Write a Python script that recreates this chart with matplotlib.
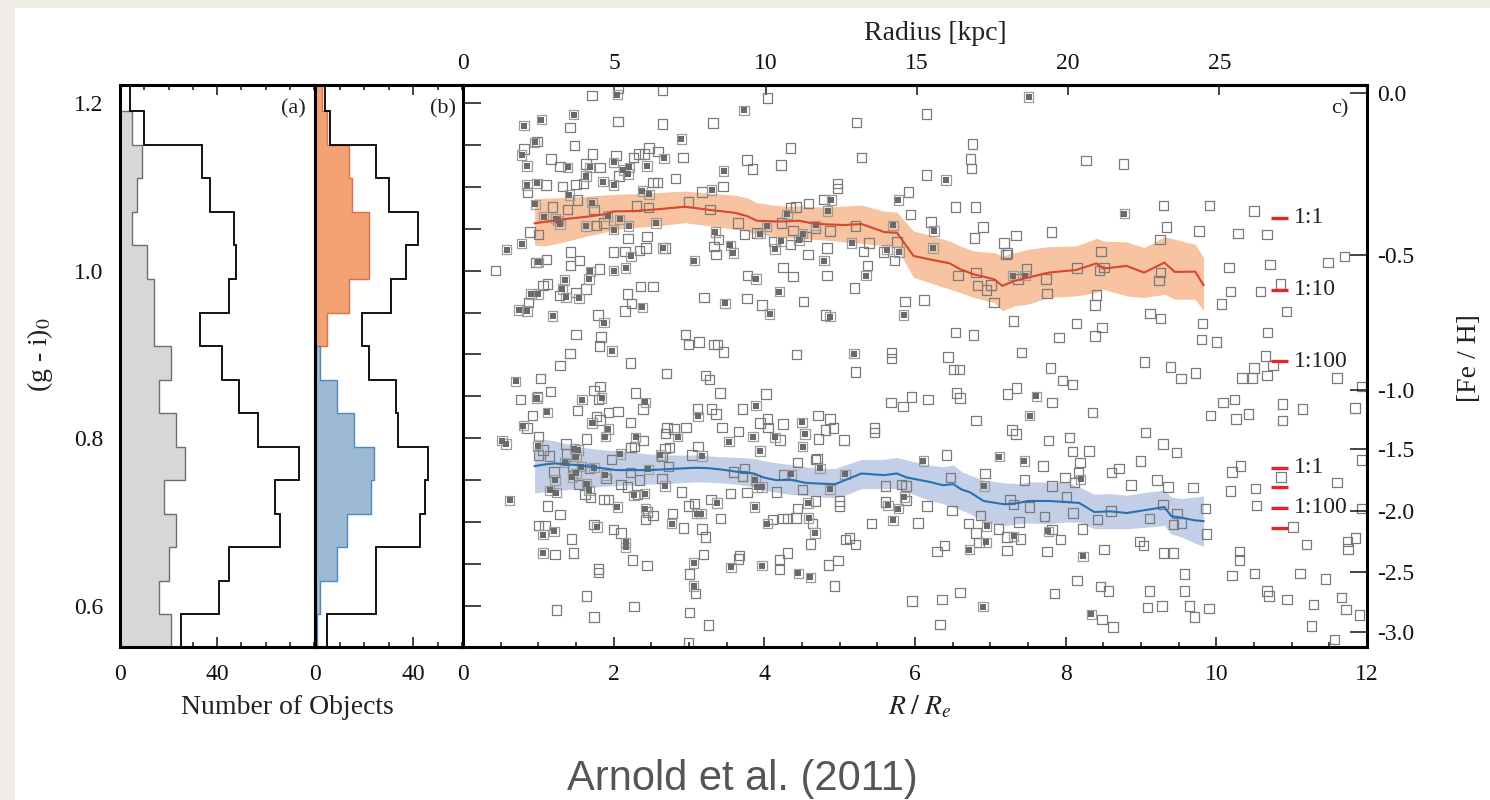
import numpy as np
import matplotlib
matplotlib.use("Agg")
import matplotlib.pyplot as plt
from matplotlib.patches import Rectangle
from matplotlib.ticker import MultipleLocator

plt.rcParams['font.family'] = ['Liberation Serif', 'DejaVu Serif']
plt.rcParams['mathtext.fontset'] = 'stix'
plt.rcParams['text.color'] = '#222222'
plt.rcParams['xtick.color'] = '#111111'
plt.rcParams['ytick.color'] = '#111111'

# ---- colour histograms, 0.04 mag bins in (g - i)_0 ----
bin_edges = [0.55, 0.59, 0.63, 0.67, 0.71, 0.75, 0.79, 0.83, 0.87, 0.91,
             0.95, 0.99, 1.03, 1.07, 1.11, 1.15, 1.19, 1.23]
all_counts = [25, 41, 45, 66, 64, 74, 57, 49, 42, 33, 45, 48, 47, 37, 34, 10, 4]
inner_counts = [21, 16, 20, 23, 18, 27, 23, 16, 21, 14, 14, 11, 5, 7, 9, 5, 0]
outer_counts = [5, 25, 25, 43, 45, 46, 34, 33, 22, 19, 31, 37, 42, 30, 25, 6, 4]
blue_counts = [1, 2, 9, 13, 23, 24, 16, 9, 2, 0, 0, 0, 0, 0, 0, 0, 0]
red_counts = [0, 0, 0, 0, 0, 0, 0, 0, 0, 5, 14, 22, 22, 15, 14, 5, 3]

# ---- GC colours vs projected radius (R / R_e, (g - i)_0) ----
open_pts = [
    (1.71, 1.209), (2.06, 1.217), (2.65, 1.215), (4.04, 1.206), (1.42, 1.171), (2.06, 1.178), (2.65, 1.175),
    (3.32, 1.176), (5.22, 1.177), (6.15, 1.187), (0.98, 1.154), (1.48, 1.149), (4.35, 1.146), (0.81, 1.145),
    (1.17, 1.133), (1.29, 1.124), (1.72, 1.139), (1.63, 1.127), (1.82, 1.123), (2.03, 1.137), (2.26, 1.135),
    (2.33, 1.139), (2.41, 1.139), (2.47, 1.146), (2.59, 1.142), (2.92, 1.135), (2.07, 1.113), (3.77, 1.132),
    (3.84, 1.121), (4.22, 1.126), (5.29, 1.135), (2.82, 1.110), (6.15, 1.114), (1.10, 1.102), (0.86, 1.093),
    (1.32, 1.100), (1.50, 1.103), (1.60, 1.104), (2.52, 1.105), (2.58, 1.105), (3.17, 1.094), (3.45, 1.100),
    (4.97, 1.104), (4.97, 1.098), (5.91, 1.094), (1.52, 1.084), (1.19, 1.076), (1.39, 1.073), (1.74, 1.073),
    (2.30, 1.077), (2.46, 1.075), (2.99, 1.082), (3.28, 1.073), (4.35, 1.075), (4.42, 1.076), (4.59, 1.080),
    (4.79, 1.085), (5.94, 1.067), (6.21, 1.058), (1.00, 1.043), (0.89, 1.046), (0.43, 1.000), (1.77, 1.054),
    (1.87, 1.057), (2.19, 1.038), (2.44, 1.041), (2.00, 1.022), (2.15, 1.023), (2.34, 1.024), (2.43, 1.027),
    (2.68, 1.027), (3.39, 1.037), (3.33, 1.029), (3.36, 1.019), (3.65, 1.057), (3.74, 1.043), (3.90, 1.045),
    (4.23, 1.057), (4.38, 1.048), (4.56, 1.041), (4.13, 1.035), (4.35, 1.031), (4.68, 1.051), (4.87, 1.047),
    (5.21, 1.053), (5.76, 1.034), (5.58, 1.022), (5.73, 1.012), (5.39, 1.033), (5.32, 1.023), (4.83, 1.027),
    (4.58, 1.019), (0.97, 1.010), (1.11, 1.013), (1.43, 1.022), (1.55, 1.012), (1.43, 1.006), (1.81, 1.002),
    (1.12, 0.984), (1.06, 0.982), (0.87, 0.962), (1.28, 0.970), (1.50, 0.974), (1.63, 0.978), (2.18, 0.972),
    (2.24, 0.961), (2.15, 0.952), (2.36, 0.981), (2.52, 0.981), (3.78, 0.994), (4.25, 1.004), (4.38, 0.993),
    (4.83, 0.994), (5.37, 1.006), (5.20, 0.979), (3.20, 0.968), (3.77, 0.967), (3.97, 0.959), (4.52, 0.963),
    (4.81, 0.947), (5.87, 0.963), (6.12, 0.965), (1.79, 0.947), (1.50, 0.924), (1.83, 0.921), (1.81, 0.910),
    (1.42, 0.901), (2.95, 0.924), (2.99, 0.912), (3.13, 0.915), (3.33, 0.912), (3.38, 0.912), (3.46, 0.903),
    (4.43, 0.900), (5.69, 0.902),
    (6.76, 1.151), (6.74, 1.133), (6.75, 1.122), (8.27, 1.131), (8.77, 1.127), (6.54, 1.076), (6.80, 1.076),
    (9.30, 1.078), (9.91, 1.078), (10.50, 1.071), (6.90, 1.052), (6.79, 1.039), (7.34, 1.042), (7.18, 1.033),
    (7.23, 1.021), (7.21, 1.019), (7.81, 1.046), (9.34, 1.052), (9.25, 1.037), (9.77, 1.047), (10.29, 1.044),
    (10.67, 1.043), (6.57, 0.994), (6.81, 0.998), (6.83, 0.982), (6.95, 0.977), (7.01, 0.983), (7.05, 0.962),
    (7.37, 0.990), (7.48, 1.002), (7.74, 0.990), (7.75, 0.973), (8.15, 1.003), (8.47, 1.023), (8.45, 1.000),
    (8.51, 1.004), (8.41, 0.971), (8.39, 0.959), (9.26, 0.998), (9.24, 0.988), (10.17, 1.004), (10.71, 1.007),
    (10.19, 0.975), (10.07, 0.960), (10.59, 0.975), (10.85, 0.984), (10.93, 0.951), (11.48, 1.010), (11.70, 1.017),
    (7.31, 0.940), (6.54, 0.926), (6.78, 0.923), (8.14, 0.937), (7.91, 0.920), (8.39, 0.922), (8.48, 0.932),
    (9.12, 0.949), (9.26, 0.943), (9.82, 0.937), (9.80, 0.918), (10.00, 0.915), (10.68, 0.926), (6.44, 0.897),
    (7.41, 0.902), (10.65, 0.898),
    (5.69, 0.895), (1.29, 0.887), (2.22, 0.890), (2.70, 0.877), (3.22, 0.875), (3.27, 0.870), (3.41, 0.854),
    (4.02, 0.853), (5.21, 0.879), (5.68, 0.843), (5.84, 0.838), (5.95, 0.849), (6.17, 0.846), (1.03, 0.871),
    (1.16, 0.856), (0.76, 0.846), (0.99, 0.850), (0.92, 0.827), (0.85, 0.812), (1.52, 0.833), (1.74, 0.857),
    (1.82, 0.862), (1.80, 0.846), (1.77, 0.826), (1.93, 0.831), (2.06, 0.832), (1.82, 0.822), (1.64, 0.799),
    (2.22, 0.819), (2.29, 0.854), (2.39, 0.835), (2.23, 0.789), (2.39, 0.797), (2.28, 0.790), (1.97, 0.775),
    (1.00, 0.802), (1.06, 0.786), (1.00, 0.780), (1.15, 0.779), (1.37, 0.793), (1.38, 0.781), (1.45, 0.767),
    (1.68, 0.764), (1.21, 0.760), (1.53, 0.745), (1.62, 0.733), (1.69, 0.729), (1.12, 0.719), (1.29, 0.709),
    (1.90, 0.752), (1.87, 0.727), (1.93, 0.727), (2.10, 0.745), (2.22, 0.759), (2.34, 0.750), (2.18, 0.742),
    (2.32, 0.733), (2.45, 0.712), (2.52, 0.708), (2.42, 0.703), (2.64, 0.752), (2.73, 0.766), (2.64, 0.778),
    (2.68, 0.788), (2.74, 0.789), (2.71, 0.813), (2.80, 0.811), (2.96, 0.813), (2.69, 0.806), (3.04, 0.780),
    (3.12, 0.790), (3.11, 0.835), (3.30, 0.835), (3.36, 0.829), (3.44, 0.813), (3.66, 0.808), (3.71, 0.835),
    (3.94, 0.818), (4.04, 0.823), (4.05, 0.813), (4.21, 0.798), (4.25, 0.817), (4.71, 0.827), (4.87, 0.823),
    (4.92, 0.812), (4.81, 0.810), (4.72, 0.799), (5.06, 0.798), (5.46, 0.812), (5.46, 0.807), (4.70, 0.776),
    (4.68, 0.775), (4.44, 0.771), (2.90, 0.736), (2.78, 0.710), (2.93, 0.693), (2.99, 0.719), (3.07, 0.722),
    (3.29, 0.727), (3.42, 0.704), (3.17, 0.692), (3.22, 0.682), (3.19, 0.661), (3.01, 0.638), (3.09, 0.615),
    (3.01, 0.592), (3.26, 0.577), (2.99, 0.556), (3.55, 0.734), (3.59, 0.760), (3.71, 0.755), (3.74, 0.764),
    (3.77, 0.735), (4.11, 0.703), (4.16, 0.736), (4.26, 0.756), (4.51, 0.739), (4.44, 0.716), (4.25, 0.704),
    (4.31, 0.704), (4.42, 0.705), (4.68, 0.725), (4.64, 0.698), (4.61, 0.674), (5.00, 0.725), (5.00, 0.719),
    (5.08, 0.679), (5.13, 0.681), (5.21, 0.673), (4.98, 0.654), (4.85, 0.649), (4.93, 0.624), (4.31, 0.663),
    (4.20, 0.655), (4.20, 0.644), (3.67, 0.660), (3.66, 0.656), (5.42, 0.698), (5.61, 0.743), (5.61, 0.724),
    (5.82, 0.745), (5.88, 0.743), (5.88, 0.726), (6.04, 0.699), (6.16, 0.719), (5.96, 0.606), (6.36, 0.608),
    (6.33, 0.578), (6.29, 0.665), (1.00, 0.696), (1.09, 0.696), (1.22, 0.661), (1.47, 0.663), (1.44, 0.680),
    (1.74, 0.697), (2.00, 0.691), (2.10, 0.687), (2.25, 0.655), (2.44, 0.648), (1.80, 0.644), (1.80, 0.640),
    (1.64, 0.612), (1.24, 0.595), (1.74, 0.587), (2.27, 0.599),
    (9.05, 0.891), (6.51, 0.882), (6.59, 0.882), (7.80, 0.884), (7.96, 0.869), (8.09, 0.864), (9.39, 0.885),
    (9.53, 0.871), (9.72, 0.878), (10.50, 0.884), (10.75, 0.887), (10.67, 0.875), (10.34, 0.872), (10.48, 0.872),
    (11.60, 0.872), (6.55, 0.854), (6.60, 0.848), (7.23, 0.853), (7.35, 0.860), (7.82, 0.843), (6.81, 0.821),
    (8.36, 0.831), (7.29, 0.810), (7.34, 0.805), (7.77, 0.797), (8.05, 0.801), (8.09, 0.784), (8.31, 0.785),
    (9.06, 0.807), (9.29, 0.793), (9.47, 0.783), (9.92, 0.827), (10.09, 0.843), (10.24, 0.846), (10.26, 0.823),
    (10.43, 0.829), (10.88, 0.841), (10.88, 0.821), (11.14, 0.835), (11.84, 0.836), (11.93, 0.862), (6.42, 0.780),
    (7.70, 0.767), (6.93, 0.758), (6.47, 0.753), (6.49, 0.714), (7.45, 0.750), (7.82, 0.743), (7.99, 0.753),
    (8.17, 0.759), (8.12, 0.747), (8.19, 0.771), (8.61, 0.759), (8.71, 0.764), (8.99, 0.773), (8.87, 0.744),
    (9.21, 0.750), (9.36, 0.742), (9.69, 0.741), (7.26, 0.727), (7.31, 0.721), (7.52, 0.718), (6.87, 0.708),
    (6.71, 0.698), (6.81, 0.687), (6.85, 0.676), (7.11, 0.692), (7.22, 0.682), (7.40, 0.680), (7.72, 0.707),
    (7.82, 0.691), (7.93, 0.679), (7.75, 0.665), (7.38, 0.700), (7.22, 0.666), (6.39, 0.672), (8.01, 0.730),
    (8.10, 0.711), (8.22, 0.692), (8.42, 0.703), (8.51, 0.667), (8.60, 0.713), (8.98, 0.677), (9.03, 0.672),
    (9.11, 0.704), (9.29, 0.721), (9.48, 0.710), (9.54, 0.699), (9.43, 0.697), (9.86, 0.716), (9.87, 0.686),
    (9.30, 0.663), (9.43, 0.663), (10.21, 0.760), (10.32, 0.767), (10.19, 0.737), (10.52, 0.740), (10.53, 0.720),
    (10.86, 0.754), (11.02, 0.694), (11.20, 0.673), (11.60, 0.747), (11.93, 0.774), (11.93, 0.716), (10.31, 0.665),
    (10.31, 0.655), (10.21, 0.636), (10.51, 0.639), (11.11, 0.639), (11.45, 0.632), (11.74, 0.677), (11.75, 0.668),
    (11.85, 0.681), (10.67, 0.618), (10.70, 0.612), (10.94, 0.608), (11.29, 0.602), (11.66, 0.610), (11.72, 0.596),
    (11.90, 0.589), (11.26, 0.576), (11.57, 0.560), (9.58, 0.638), (9.58, 0.618), (9.64, 0.600), (9.71, 0.587),
    (9.90, 0.597), (9.11, 0.618), (9.09, 0.598), (9.28, 0.600), (8.15, 0.630), (8.46, 0.623), (8.57, 0.618),
    (8.48, 0.584), (8.63, 0.575), (7.85, 0.615), (6.60, 0.616),
]

# objects with spectroscopic follow-up
filled_pts = [
    (2.05, 1.210), (3.73, 1.191), (0.81, 1.173), (1.04, 1.180), (1.47, 1.186), (0.95, 1.153), (2.90, 1.157),
    (0.78, 1.138), (0.85, 1.125), (1.39, 1.123), (1.68, 1.123), (2.00, 1.129), (2.67, 1.134), (2.44, 1.125),
    (2.13, 1.120), (2.21, 1.123), (2.19, 1.115), (1.63, 1.113), (3.46, 1.119), (6.41, 1.108), (0.85, 1.102),
    (0.98, 1.104), (1.86, 1.106), (2.00, 1.102), (2.38, 1.095), (2.47, 1.091), (3.30, 1.096), (1.41, 1.090),
    (0.96, 1.079), (1.71, 1.081), (4.89, 1.084), (4.84, 1.071), (5.78, 1.084), (1.07, 1.064), (1.26, 1.060),
    (1.23, 1.062), (1.29, 1.055), (0.78, 1.032), (0.58, 1.025), (1.63, 1.053), (1.92, 1.065), (2.00, 1.049),
    (2.08, 1.061), (2.20, 1.053), (2.56, 1.057), (2.23, 1.017), (2.65, 1.027), (3.35, 1.046), (3.55, 1.030),
    (3.59, 1.021), (3.94, 1.044), (4.03, 1.053), (4.30, 1.067), (4.51, 1.044), (4.46, 1.036), (4.22, 1.035),
    (4.14, 1.026), (4.68, 1.054), (5.71, 1.054), (5.63, 1.025), (5.79, 1.022), (5.16, 1.033), (4.79, 1.012),
    (6.25, 1.047), (6.24, 1.027), (3.07, 1.012), (1.00, 1.010), (1.69, 0.999), (2.00, 1.000), (2.16, 1.003),
    (1.67, 0.990), (1.35, 0.989), (0.90, 0.972), (1.00, 0.972), (1.32, 0.978), (1.37, 0.968), (1.54, 0.967),
    (0.74, 0.953), (0.85, 0.952), (1.19, 0.946), (2.38, 0.956), (3.89, 0.990), (5.35, 0.994), (4.20, 0.975),
    (3.48, 0.961), (4.07, 0.948), (4.87, 0.945), (5.85, 0.947), (1.87, 0.938), (1.98, 0.904), (5.19, 0.901),
    (7.51, 1.207), (8.78, 1.068), (7.30, 0.994), (7.46, 0.994),
    (0.70, 0.868), (0.98, 0.848), (1.12, 0.831), (0.80, 0.815), (1.58, 0.846), (1.84, 0.848), (1.71, 0.818),
    (1.93, 0.811), (1.89, 0.802), (2.42, 0.843), (2.29, 0.801), (2.09, 0.781), (0.99, 0.791), (0.52, 0.797),
    (0.57, 0.793), (1.48, 0.787), (1.53, 0.786), (1.50, 0.778), (1.35, 0.771), (1.57, 0.766), (1.74, 0.765),
    (1.22, 0.750), (1.45, 0.754), (1.50, 0.758), (1.64, 0.746), (1.67, 0.738), (1.15, 0.738), (1.24, 0.735),
    (0.62, 0.726), (1.89, 0.756), (2.05, 0.718), (2.27, 0.732), (2.41, 0.734), (2.42, 0.716), (2.46, 0.763),
    (2.68, 0.743), (2.62, 0.780), (2.85, 0.802), (3.17, 0.779), (3.12, 0.826), (3.53, 0.796), (3.89, 0.839),
    (3.85, 0.802), (3.94, 0.785), (4.14, 0.801), (4.50, 0.819), (4.54, 0.805), (4.51, 0.790), (4.74, 0.764),
    (6.11, 0.773), (2.77, 0.698), (3.10, 0.710), (3.16, 0.710), (3.37, 0.723), (3.06, 0.651), (3.06, 0.624),
    (3.88, 0.750), (3.90, 0.742), (3.97, 0.742), (3.87, 0.718), (4.04, 0.698), (4.36, 0.757), (4.58, 0.723),
    (4.59, 0.705), (4.67, 0.687), (4.87, 0.739), (5.07, 0.757), (3.97, 0.648), (3.56, 0.646), (4.45, 0.639),
    (4.61, 0.634), (5.64, 0.720), (5.71, 0.702), (5.78, 0.716), (5.86, 0.730), (1.06, 0.685), (1.21, 0.689),
    (1.06, 0.663), (1.78, 0.694), (2.16, 0.676), (2.16, 0.670),
    (7.61, 0.850), (7.52, 0.827), (7.12, 0.778), (7.45, 0.773), (6.92, 0.743), (8.20, 0.751), (6.95, 0.695),
    (6.94, 0.676), (7.31, 0.683), (7.77, 0.689), (8.23, 0.659), (6.72, 0.667), (8.34, 0.590), (6.90, 0.599),
]

# running medians of the red and blue subpopulations with their spread
red_r = [0.95, 1.09, 1.26, 1.39, 1.65, 1.87, 2.00, 2.26, 2.56, 2.95, 3.29, 3.60, 3.77, 3.90,
         4.12, 4.29, 4.46, 4.64, 4.81, 5.07, 5.29, 5.59, 5.76, 5.98, 6.19, 6.46, 6.60, 6.78,
         7.05, 7.16, 7.32, 7.50, 7.77, 8.14, 8.41, 8.50, 8.81, 9.04, 9.31, 9.45, 9.72, 9.83]
red_mid = [1.0564, 1.0583, 1.0603, 1.0619, 1.0643, 1.0671, 1.0706, 1.0710, 1.0730, 1.0762, 1.0722,
           1.0691, 1.0651, 1.0595, 1.0587, 1.0587, 1.0595, 1.0564, 1.0552, 1.0544, 1.0556, 1.0460,
           1.0452, 1.0175, 1.0135, 1.0087, 1.0016, 0.9956, 0.9897, 0.9818, 0.9877, 0.9917, 0.9976,
           1.0008, 1.0087, 1.0024, 1.0056, 0.9976, 1.0095, 0.9984, 0.9988, 0.9826]
red_hi = [1.0857, 1.0865, 1.0869, 1.0877, 1.0889, 1.0901, 1.0909, 1.0917, 1.0929, 1.0949, 1.0921,
          1.0901, 1.0869, 1.0810, 1.0782, 1.0770, 1.0770, 1.0762, 1.0758, 1.0770, 1.0782, 1.0710,
          1.0698, 1.0472, 1.0425, 1.0353, 1.0294, 1.0234, 1.0214, 1.0175, 1.0214, 1.0254, 1.0286,
          1.0294, 1.0385, 1.0353, 1.0341, 1.0274, 1.0405, 1.0373, 1.0314, 1.0155]
red_lo = [1.0302, 1.0294, 1.0326, 1.0353, 1.0413, 1.0452, 1.0492, 1.0512, 1.0532, 1.0571, 1.0532,
          1.0492, 1.0472, 1.0433, 1.0413, 1.0393, 1.0385, 1.0373, 1.0365, 1.0341, 1.0326, 1.0294,
          1.0274, 0.9917, 0.9857, 0.9778, 0.9738, 0.9679, 0.9619, 0.9520, 0.9579, 0.9599, 0.9679,
          0.9698, 0.9738, 0.9778, 0.9698, 0.9679, 0.9718, 0.9659, 0.9659, 0.9520]

blue_r = [0.95, 1.09, 1.22, 1.39, 1.52, 1.69, 1.87, 2.04, 2.21, 2.47, 2.73, 3.08, 3.25, 3.42,
          3.64, 3.86, 3.99, 4.16, 4.33, 4.55, 4.72, 4.94, 5.07, 5.29, 5.59, 5.76, 5.89, 6.19,
          6.37, 6.51, 6.62, 6.73, 6.91, 7.19, 7.37, 7.50, 7.77, 8.00, 8.18, 8.38, 8.59, 8.81,
          9.09, 9.31, 9.40, 9.54, 9.72, 9.83]
blue_mid = [0.7668, 0.7688, 0.7700, 0.7688, 0.7680, 0.7660, 0.7640, 0.7620, 0.7620, 0.7620,
            0.7632, 0.7648, 0.7644, 0.7628, 0.7600, 0.7580, 0.7532, 0.7500, 0.7508, 0.7468,
            0.7460, 0.7452, 0.7500, 0.7580, 0.7560, 0.7580, 0.7532, 0.7480, 0.7440, 0.7452,
            0.7388, 0.7356, 0.7252, 0.7212, 0.7228, 0.7252, 0.7252, 0.7240, 0.7228, 0.7120,
            0.7128, 0.7108, 0.7148, 0.7180, 0.7072, 0.7052, 0.7020, 0.7012]
blue_hi = [0.7988, 0.7988, 0.7968, 0.7932, 0.7900, 0.7880, 0.7860, 0.7852, 0.7840, 0.7812,
           0.7800, 0.7800, 0.7792, 0.7780, 0.7772, 0.7760, 0.7732, 0.7708, 0.7688, 0.7660,
           0.7640, 0.7640, 0.7680, 0.7748, 0.7748, 0.7772, 0.7740, 0.7680, 0.7660, 0.7680,
           0.7600, 0.7560, 0.7500, 0.7468, 0.7460, 0.7480, 0.7480, 0.7480, 0.7420, 0.7332,
           0.7340, 0.7320, 0.7360, 0.7380, 0.7300, 0.7280, 0.7300, 0.7312]
blue_lo = [0.7348, 0.7360, 0.7372, 0.7388, 0.7400, 0.7412, 0.7428, 0.7436, 0.7440, 0.7452,
           0.7460, 0.7480, 0.7476, 0.7468, 0.7452, 0.7420, 0.7380, 0.7356, 0.7332, 0.7316,
           0.7300, 0.7292, 0.7320, 0.7400, 0.7400, 0.7400, 0.7360, 0.7260, 0.7220, 0.7180,
           0.7140, 0.7100, 0.7000, 0.6960, 0.6980, 0.6988, 0.6980, 0.7000, 0.7000, 0.6920,
           0.6920, 0.6920, 0.6940, 0.6960, 0.6860, 0.6820, 0.6748, 0.6708]

# mixing-ratio markers
ratio_upper = [1.063, 0.977, 0.892]
ratio_upper_txt = ['1:1', '1:10', '1:100']
ratio_lower = [0.765, 0.742, 0.717, 0.693]
ratio_lower_txt = ['1:1', '', '1:100', '']

# [Fe/H] scale on the right hand side, placed at its (g - i)_0 colour
feh_txt = ['0.0', '-0.5', '-1.0', '-1.5', '-2.0', '-2.5', '-3.0']
feh_at_colour = [1.212, 1.019, 0.858, 0.787, 0.713, 0.641, 0.569]

kpc_ticks = [0, 5, 10, 15, 20, 25]
re_kpc = 2.49

colour_lim = (0.551, 1.2214)
W, H = 1490, 800
TICK_FS = 17
LABEL_FS = 20


def box(x0, x1, y0=85, y1=647):
    return [x0 / W, 1 - y1 / H, (x1 - x0) / W, (y1 - y0) / H]


fig = plt.figure(figsize=(W / 100, H / 100), dpi=100)
fig.patch.set_facecolor('#f1eee8')
fig.add_artist(Rectangle((15 / W, 0), 1, 1 - 8 / H, transform=fig.transFigure,
                         facecolor='white', edgecolor='none', zorder=-10))

ax_a = fig.add_axes(box(120, 315))
ax_b = fig.add_axes(box(315, 463))
ax_c = fig.add_axes(box(463, 1367))

# (a) whole sample and inner region
ax_a.stairs(inner_counts, bin_edges, orientation='horizontal', fill=True,
            facecolor='#d6d7d9', edgecolor='#6e6e6e', lw=1.0)
ax_a.stairs(all_counts, bin_edges, orientation='horizontal', color='black', lw=1.3)
ax_a.set_xlim(0, 80.4)

# (b) outer region split in red and blue
ax_b.stairs(red_counts, bin_edges, orientation='horizontal', fill=True,
            facecolor='#f3a274', edgecolor='#e66c45', lw=1.0)
ax_b.stairs(blue_counts, bin_edges, orientation='horizontal', fill=True,
            facecolor='#9bb8d4', edgecolor='#4f88bd', lw=1.0)
ax_b.stairs(outer_counts, bin_edges, orientation='horizontal', color='black', lw=1.3)
ax_b.set_xlim(0, 60.4)

for ax in (ax_a, ax_b):
    ax.set_ylim(*colour_lim)
    ax.set_axisbelow(True)
    ax.set_xticks([0, 40])
    ax.xaxis.set_minor_locator(MultipleLocator(10))
    ax.tick_params(axis='x', which='both', direction='in', top=True, bottom=True,
                   labelsize=TICK_FS, pad=12, width=1.1)
    ax.tick_params(axis='x', which='major', length=7)
    ax.tick_params(axis='x', which='minor', length=3.5)

ax_a.set_yticks([0.6, 0.8, 1.0, 1.2])
ax_a.set_yticklabels(['0.6', '0.8', '1.0', '1.2'])
ax_a.tick_params(axis='y', length=0, labelsize=TICK_FS, pad=12)
ax_b.set_yticks([])

ax_a.text(0.95, 0.975, '(a)', transform=ax_a.transAxes, ha='right', va='top', fontsize=16)
ax_b.text(0.95, 0.975, '(b)', transform=ax_b.transAxes, ha='right', va='top', fontsize=16)

# (c) colour versus radius
ax_c.fill_between(red_r, red_lo, red_hi, color='#f7c3a0', lw=0, zorder=1)
ax_c.fill_between(blue_r, blue_lo, blue_hi, color='#c3cfe6', lw=0, zorder=1)

o = np.array(open_pts)
f = np.array(filled_pts)
ax_c.scatter(o[:, 0], o[:, 1], marker='s', s=46, facecolors='none',
             edgecolors='#7a7a7a', linewidths=0.9, zorder=2)
ax_c.scatter(f[:, 0], f[:, 1], marker='s', s=46, facecolors='none',
             edgecolors='#9c9c9c', linewidths=0.9, zorder=2)
ax_c.scatter(f[:, 0], f[:, 1], marker='s', s=14, color='#6a6a6a', linewidths=0, zorder=2)

ax_c.plot(red_r, red_mid, color='#d8462b', lw=1.5, zorder=3)
ax_c.plot(blue_r, blue_mid, color='#2b70ae', lw=1.5, zorder=3)

for lv, tx in zip(ratio_upper + ratio_lower, ratio_upper_txt + ratio_lower_txt):
    ax_c.plot([10.72, 10.95], [lv, lv], color='#e3262b', lw=2.4, solid_capstyle='butt', zorder=4)
    if tx:
        ax_c.text(11.03, lv, tx, ha='left', va='center', fontsize=TICK_FS, zorder=4)

ax_c.set_xlim(0, 12)
ax_c.set_ylim(*colour_lim)
ax_c.set_xticks(range(0, 13, 2))
ax_c.xaxis.set_minor_locator(MultipleLocator(0.5))
ax_c.yaxis.set_major_locator(MultipleLocator(0.05))
ax_c.tick_params(axis='x', which='both', direction='in', top=False, bottom=True,
                 labelsize=TICK_FS, pad=12, width=1.1)
ax_c.tick_params(axis='x', which='major', length=7)
ax_c.tick_params(axis='x', which='minor', length=3.5)
ax_c.tick_params(axis='y', direction='in', left=True, right=False, labelleft=False,
                 length=13, width=1.1)
ax_c.text(0.98, 0.975, 'c)', transform=ax_c.transAxes, ha='right', va='top', fontsize=16)

ax_f = ax_c.twinx()
ax_f.set_ylim(*colour_lim)
ax_f.set_yticks(feh_at_colour)
ax_f.set_yticklabels(feh_txt)
ax_f.tick_params(axis='y', direction='in', length=12, width=1.1, labelsize=TICK_FS, pad=7)
for s in ax_f.spines.values():
    s.set_visible(False)

top = ax_c.secondary_xaxis('top', functions=(lambda r: r * re_kpc, lambda k: k / re_kpc))
top.set_xticks(kpc_ticks)
top.tick_params(direction='in', length=7, width=1.1, labelsize=TICK_FS, pad=8)
top.spines['top'].set_linewidth(2.2)

for ax in (ax_a, ax_b, ax_c):
    for s in ax.spines.values():
        s.set_linewidth(2.2)

# axis titles
fig.text(40 / W, 1 - 355 / H, '(g - i)$_0$', rotation=90, ha='center', va='center', fontsize=LABEL_FS)
fig.text(1470 / W, 1 - 358 / H, '[Fe / H]', rotation=90, ha='center', va='center', fontsize=LABEL_FS)
fig.text(287 / W, 1 - 708 / H, 'Number of Objects', ha='center', va='center', fontsize=LABEL_FS)
fig.text(920 / W, 1 - 707 / H, r'$R\;/\;R_e$', ha='center', va='center', fontsize=LABEL_FS)
fig.text(935 / W, 1 - 33 / H, 'Radius [kpc]', ha='center', va='center', fontsize=LABEL_FS)

fig.text(742 / W, 10 / H, 'Arnold et al. (2011)', ha='center', va='baseline',
         fontsize=30, color='#555555', family=['Liberation Sans', 'DejaVu Sans'])

fig.savefig('out.png', dpi=100, facecolor=fig.get_facecolor())
